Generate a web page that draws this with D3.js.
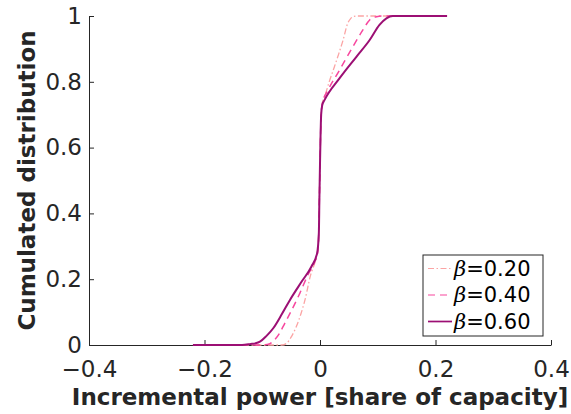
<!DOCTYPE html>
<html>
<head>
<meta charset="utf-8">
<script src="https://cdn.jsdelivr.net/npm/d3@7"></script>
<style>
  body { margin: 0; background: #fff; }
  svg { font-family: "DejaVu Sans", sans-serif; }
</style>
</head>
<body>
<script>
// tick labels
var xTicks = [-0.4, -0.2, 0, 0.2, 0.4],
    yTicks = [0, 0.2, 0.4, 0.6, 0.8, 1];

// cumulated distribution, points: [x, F(x)]
var beta20 = [[-0.22, 0], [-0.066, 0], [-0.058, 0.005], [-0.05, 0.024], [-0.041, 0.056], [-0.033, 0.095],
    [-0.026, 0.137], [-0.017, 0.208], [-0.007, 0.264], [-0.003, 0.3], [-0.002, 0.36], [-0.001, 0.45], [0, 0.55],
    [0.001, 0.64], [0.002, 0.7], [0.004, 0.735], [0.008, 0.755], [0.016, 0.8], [0.025, 0.846], [0.033, 0.888],
    [0.04, 0.927], [0.048, 0.978], [0.053, 0.992], [0.057, 0.998], [0.065, 1], [0.22, 1]];
var beta40 = [[-0.22, 0], [-0.1, 0], [-0.087, 0.004], [-0.079, 0.015], [-0.07, 0.036], [-0.061, 0.066],
    [-0.052, 0.096], [-0.035, 0.157], [-0.021, 0.213], [-0.009, 0.253], [-0.004, 0.28], [-0.002, 0.35],
    [-0.001, 0.45], [0, 0.55], [0.001, 0.64], [0.002, 0.7], [0.005, 0.74], [0.014, 0.775], [0.034, 0.836],
    [0.057, 0.907], [0.074, 0.957], [0.086, 0.988], [0.098, 0.998], [0.109, 1], [0.22, 1]];
var beta60 = [[-0.22, 0], [-0.135, 0], [-0.12, 0.003], [-0.112, 0.005], [-0.104, 0.01], [-0.093, 0.027],
    [-0.081, 0.051], [-0.066, 0.094], [-0.052, 0.137], [-0.032, 0.192], [-0.015, 0.238], [-0.005, 0.279],
    [-0.002, 0.34], [-0.001, 0.45], [0, 0.55], [0.001, 0.64], [0.002, 0.7], [0.004, 0.73], [0.008, 0.745],
    [0.034, 0.811], [0.063, 0.876], [0.086, 0.927], [0.103, 0.973], [0.115, 0.993], [0.126, 1], [0.22, 1]];

var seriesNames = ["=0.20", "=0.40", "=0.60"],
    seriesData = [beta20, beta40, beta60],
    seriesColors = ["#fba4a4", "#f7479e", "#9c0f74"],
    seriesDash = ["6,2.5,1.5,2.5", "7,5", null],
    seriesWidth = [1.3, 1.5, 2];

var width = 571, height = 414,
    margins = {top: 16, left: 89, right: 20, bottom: 69};

var svg = d3.select("body").append("svg")
    .attr("width", width)
    .attr("height", height);

var x = d3.scaleLinear().domain([-0.4, 0.4]).range([margins.left, width - margins.right]),
    y = d3.scaleLinear().domain([0, 1]).range([height - margins.bottom, margins.top]);

var xAxis = d3.axisBottom(x)
    .tickValues(xTicks)
    .tickSizeInner(-5).tickSizeOuter(0).tickPadding(0)
    .tickFormat(function(d) { return d === 0 ? "0" : d3.format(".1f")(d).replace("-", "\u2212"); });

var gx = svg.append("g")
    .attr("class", "x axis")
    .attr("transform", "translate(0," + y(0) + ")")
    .call(xAxis);
gx.selectAll("text").attr("y", 32).attr("dy", null);

var yAxis = d3.axisLeft(y)
    .tickValues(yTicks)
    .tickSizeInner(-5).tickSizeOuter(0).tickPadding(7)
    .tickFormat(function(d) { return d === 0 || d === 1 ? String(d) : d3.format(".1f")(d); });

var gy = svg.append("g")
    .attr("class", "y axis")
    .attr("transform", "translate(" + x(-0.4) + ",0)")
    .call(yAxis);

svg.selectAll(".axis")
    .attr("font-family", "DejaVu Sans")
    .attr("font-size", 23);
svg.selectAll(".axis text").attr("fill", "#262626");
svg.selectAll(".axis path, .axis line").attr("stroke", "#262626").attr("stroke-width", 1);

var line = d3.line()
    .x(function(d) { return x(d[0]); })
    .y(function(d) { return y(d[1]); })
    .curve(d3.curveMonotoneX);

svg.append("g").selectAll("path.line")
    .data(seriesData)
    .enter()
    .append("path")
    .attr("class", "line")
    .attr("fill", "none")
    .attr("stroke", function(d, i) { return seriesColors[i]; })
    .attr("stroke-width", function(d, i) { return seriesWidth[i]; })
    .attr("stroke-dasharray", function(d, i) { return seriesDash[i]; })
    .attr("d", line);

// axis labels
svg.append("text")
    .attr("x", (x(-0.4) + x(0.4)) / 2)
    .attr("y", 405)
    .attr("text-anchor", "middle")
    .attr("font-weight", "bold")
    .attr("font-size", 23)
    .attr("fill", "#262626")
    .text("Incremental power [share of capacity]");

svg.append("text")
    .attr("transform", "translate(35," + ((y(0) + y(1)) / 2) + ") rotate(-90)")
    .attr("text-anchor", "middle")
    .attr("font-weight", "bold")
    .attr("font-size", 23)
    .attr("fill", "#262626")
    .text("Cumulated distribution");

// legend
var legend = svg.append("g").attr("transform", "translate(423,255)");
legend.append("rect")
    .attr("width", 120).attr("height", 81)
    .attr("fill", "#fff").attr("stroke", "#262626").attr("stroke-width", 1);

var item = legend.selectAll("g.item")
    .data(seriesNames)
    .enter()
    .append("g")
    .attr("class", "item")
    .attr("transform", function(d, i) { return "translate(0," + (13.5 + i * 26.5) + ")"; });

item.append("line")
    .attr("x1", 5).attr("x2", 29)
    .attr("y1", 0).attr("y2", 0)
    .attr("stroke", function(d, i) { return seriesColors[i]; })
    .attr("stroke-width", function(d, i) { return seriesWidth[i] - 0.3; })
    .attr("stroke-dasharray", function(d, i) { return seriesDash[i]; });

var label = item.append("text")
    .attr("x", 31).attr("y", 0).attr("dy", "0.35em")
    .attr("font-size", 21).attr("fill", "#000");
label.append("tspan").attr("font-style", "italic").attr("font-family", "DejaVu Serif").text("\u03b2");
label.append("tspan").text(function(d) { return d; });
</script>
</body>
</html>
